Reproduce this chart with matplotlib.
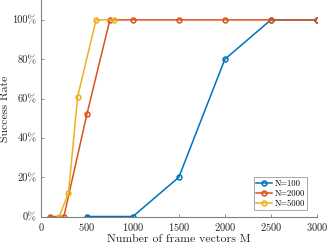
import matplotlib
matplotlib.use('Agg')
import matplotlib.pyplot as plt
from matplotlib.ticker import FuncFormatter

plt.rcParams['font.family'] = 'serif'
plt.rcParams['font.serif'] = ['cmr10', 'DejaVu Serif']
plt.rcParams['mathtext.fontset'] = 'cm'
plt.rcParams['axes.formatter.use_mathtext'] = True

# data
m_100 = [500, 1000, 1500, 2000, 2500, 3000]
rate_100 = [0.0, 0.0, 0.20, 0.80, 1.0, 1.0]

m_2000 = [100, 250, 500, 750, 1000, 1500, 2000, 2500, 3000]
rate_2000 = [0.0, 0.0, 0.52, 1.0, 1.0, 1.0, 1.0, 1.0, 1.0]

m_5000 = [200, 300, 400, 600, 800]
rate_5000 = [0.0, 0.12, 0.61, 1.0, 1.0]

labels = ['N=100', 'N=2000', 'N=5000']
colors = ['#0072BD', '#D95319', '#EDB120']

fig = plt.figure(figsize=(3.27, 2.43), dpi=100)
ax = fig.add_axes([0.125, 0.109, 0.844, 0.89])

series = [(m_100, rate_100), (m_2000, rate_2000), (m_5000, rate_5000)]
for (m, r), lab, c in zip(series, labels, colors):
    ax.plot(m, r, '-o', color=c, lw=1.1, ms=3.5, mfc='none', mew=1.1, label=lab)

ax.set_xlim(0, 3000)
ax.set_ylim(0, 1.1)
ax.set_xticks(range(0, 3001, 500))
ax.set_yticks([0, 0.2, 0.4, 0.6, 0.8, 1.0])
ax.yaxis.set_major_formatter(FuncFormatter(lambda v, p: '%d%%' % round(v * 100)))

for s in ['top', 'right']:
    ax.spines[s].set_visible(False)
for s in ['left', 'bottom']:
    ax.spines[s].set_color('#808080')
    ax.spines[s].set_linewidth(0.8)
ax.tick_params(direction='in', length=2, width=0.6, color='#808080',
               labelsize=7.5, labelcolor='#262626', pad=3)

ax.set_xlabel('Number of frame vectors M', fontsize=8.5, color='#262626', labelpad=1)
ax.set_ylabel('Success Rate', fontsize=8.5, color='#262626', labelpad=2)

leg = ax.legend(loc='lower right', bbox_to_anchor=(0.972, 0.02), fontsize=6.2,
                frameon=True, fancybox=False, edgecolor='#808080',
                handlelength=1.8, handletextpad=0.3, borderpad=0.3,
                labelspacing=0.15, borderaxespad=0.2)
leg.get_frame().set_linewidth(0.6)

fig.savefig('out.png', dpi=100)
